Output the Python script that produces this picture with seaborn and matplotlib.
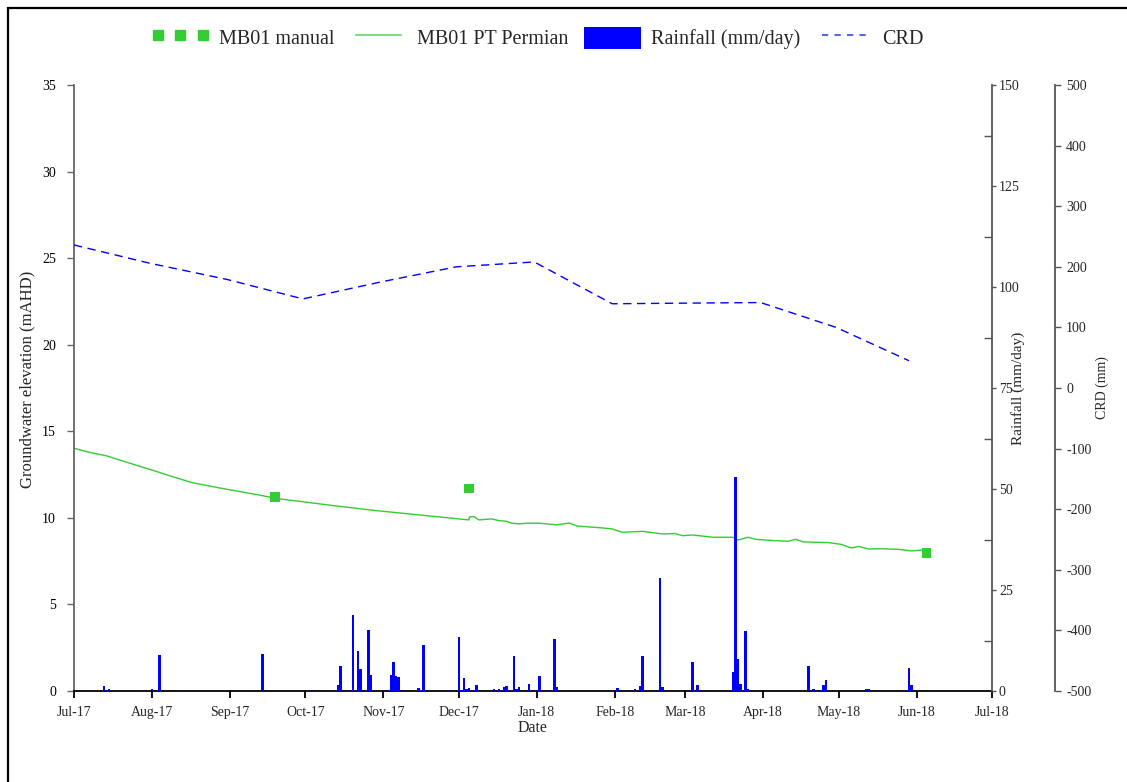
import matplotlib
matplotlib.use("Agg")
import matplotlib.pyplot as plt
import matplotlib.dates as mdates
from matplotlib.lines import Line2D
from matplotlib.patches import Patch, Rectangle
from matplotlib.ticker import MultipleLocator
import seaborn as sns
import pandas as pd
import numpy as np

# ---------------- data ----------------
pt_dates = ["2017-07-01", "2017-07-07", "2017-07-14", "2017-07-22", "2017-08-03",
            "2017-08-07", "2017-08-17", "2017-08-30", "2017-09-13", "2017-09-19",
            "2017-09-25", "2017-10-12", "2017-10-29", "2017-11-18", "2017-12-05T00:00",
            "2017-12-05T06:00", "2017-12-07", "2017-12-09", "2017-12-14", "2017-12-17",
            "2017-12-20", "2017-12-22", "2017-12-25", "2017-12-28", "2018-01-02",
            "2018-01-09", "2018-01-14", "2018-01-17", "2018-01-27", "2018-01-31",
            "2018-02-04", "2018-02-12", "2018-02-20", "2018-02-25", "2018-02-28",
            "2018-03-04", "2018-03-12", "2018-03-20", "2018-03-22", "2018-03-26",
            "2018-03-29", "2018-04-06", "2018-04-11", "2018-04-14", "2018-04-17",
            "2018-04-27", "2018-05-02", "2018-05-06", "2018-05-09", "2018-05-13",
            "2018-05-17", "2018-05-25", "2018-05-30", "2018-06-04"]
pt_values = [14.02, 13.79, 13.58, 13.21, 12.67,
             12.48, 12.03, 11.67, 11.31, 11.13,
             11.02, 10.71, 10.42, 10.13, 9.88,
             10.05, 10.07, 9.88, 9.94, 9.84,
             9.80, 9.69, 9.65, 9.69, 9.69,
             9.60, 9.70, 9.53, 9.42, 9.36,
             9.17, 9.22, 9.07, 9.09, 8.97,
             9.01, 8.88, 8.88, 8.72, 8.88,
             8.76, 8.68, 8.65, 8.76, 8.61,
             8.57, 8.47, 8.26, 8.35, 8.20,
             8.22, 8.18, 8.09, 8.15]

manual_dates = ["2017-09-19", "2017-12-05", "2018-06-05"]
manual_values = [11.2, 11.7, 7.97]

rain_dates = ["2017-07-13", "2017-07-15", "2017-08-01", "2017-08-04", "2017-09-14",
              "2017-10-03", "2017-10-08", "2017-10-14", "2017-10-15", "2017-10-20",
              "2017-10-22", "2017-10-23", "2017-10-26", "2017-10-27", "2017-11-03",
              "2017-11-04", "2017-11-05", "2017-11-06", "2017-11-07", "2017-11-08",
              "2017-11-15", "2017-11-16", "2017-11-17", "2017-11-27", "2017-12-01",
              "2017-12-02", "2017-12-03", "2017-12-04", "2017-12-05", "2017-12-07",
              "2017-12-08", "2017-12-15", "2017-12-17", "2017-12-19", "2017-12-20",
              "2017-12-21", "2017-12-23", "2017-12-24", "2017-12-25", "2017-12-29",
              "2018-01-02", "2018-01-08", "2018-01-09", "2018-02-02", "2018-02-09",
              "2018-02-11", "2018-02-12", "2018-02-19", "2018-02-20", "2018-03-04",
              "2018-03-06", "2018-03-20", "2018-03-21", "2018-03-22", "2018-03-23",
              "2018-03-25", "2018-03-26", "2018-04-19", "2018-04-21", "2018-04-24",
              "2018-04-25", "2018-04-26", "2018-05-12", "2018-05-13", "2018-05-29",
              "2018-05-30"]
rain_values = [1.3, 0.4, 0.6, 8.8, 9.2,
               0.2, 0.1, 1.5, 6.2, 18.8,
               9.8, 5.4, 15.0, 4.0, 0.2,
               3.9, 7.2, 3.7, 3.5, 0.3,
               0.7, 0.3, 11.4, 0.2, 13.4,
               0.3, 3.1, 0.5, 0.7, 0.3,
               1.5, 0.5, 0.6, 1.1, 1.3,
               0.3, 8.6, 0.6, 1.0, 1.7,
               3.7, 12.8, 1.0, 0.8, 0.4,
               1.2, 8.7, 27.9, 1.0, 7.2,
               1.4, 4.8, 53.0, 7.8, 1.7,
               14.9, 0.5, 6.2, 0.6, 0.3,
               1.5, 2.8, 0.6, 0.5, 5.8,
               1.5]

crd_dates = ["2017-07-01", "2017-07-31", "2017-08-31", "2017-09-30", "2017-10-31",
             "2017-11-30", "2017-12-31", "2018-01-31", "2018-02-28", "2018-03-31",
             "2018-04-30", "2018-05-29"]
crd_values = [236, 206, 179, 147, 175, 200, 208, 139, 140, 141, 100, 45]

# ---------------- style ----------------
sns.set_theme(style="white")
plt.rcParams["font.family"] = ["Liberation Serif", "DejaVu Serif"]
plt.rcParams["axes.unicode_minus"] = False

W, H = 1127, 782
fig = plt.figure(figsize=(W / 100, H / 100), dpi=100)
ax = fig.add_axes([74 / W, 91 / H, 918 / W, 606 / H])
ax2 = ax.twinx()
ax3 = ax.twinx()

green = "#33cc33"
blue = "#0000ff"

pt_df = pd.DataFrame({"date": pd.to_datetime(pt_dates, format="ISO8601"), "value": pt_values})
man_df = pd.DataFrame({"date": pd.to_datetime(manual_dates), "value": manual_values})
crd_df = pd.DataFrame({"date": pd.to_datetime(crd_dates), "value": crd_values})
rain_df = pd.DataFrame({"date": pd.to_datetime(rain_dates), "value": rain_values})

# groundwater
sns.lineplot(data=pt_df, x="date", y="value", ax=ax, color=green, lw=1.0,
             estimator=None, sort=False)
sns.scatterplot(data=man_df, x="date", y="value", ax=ax, color=green, marker="s",
                s=48, edgecolor="none", zorder=5)

# rainfall
ax2.bar(rain_df["date"], rain_df["value"], width=1.0, color=blue, edgecolor="none")

# CRD
sns.lineplot(data=crd_df, x="date", y="value", ax=ax3, color=blue, lw=1.0,
             linestyle=(0, (6, 4)), estimator=None, sort=False)

# ---------------- axes ----------------
x0, x1 = pd.Timestamp("2017-07-01"), pd.Timestamp("2018-07-01")
for a in (ax, ax2, ax3):
    a.set_xlim(x0, x1)
    a.set_facecolor("none")
    for s in a.spines.values():
        s.set_visible(False)

ax.set_ylim(0, 35)
ax.yaxis.set_major_locator(MultipleLocator(5))
ax.xaxis.set_major_locator(mdates.MonthLocator())
ax.xaxis.set_major_formatter(mdates.DateFormatter("%b-%y"))
ax.spines["left"].set_visible(True)
ax.spines["left"].set_color("#666666")
ax.spines["left"].set_linewidth(1.3)
ax.spines["bottom"].set_visible(True)
ax.spines["bottom"].set_color("black")
ax.spines["bottom"].set_linewidth(1.3)
ax.tick_params(axis="y", which="major", direction="out", length=5, width=1,
               color="#666666", labelsize=10, pad=8, left=True, labelcolor="black")
ax.tick_params(axis="x", which="major", direction="out", length=5, width=1.3,
               color="black", labelsize=10, pad=6, bottom=True)
ax.set_xlabel("Date", fontsize=11.5)
ax.xaxis.set_label_coords(0.5, -0.0475)
ax.set_ylabel("Groundwater elevation (mAHD)", fontsize=12)
ax.yaxis.set_label_coords(-0.0425, 0.515)
ax.grid(False)

ax2.set_ylim(0, 150)
ax2.yaxis.set_major_locator(MultipleLocator(25))
ax2.yaxis.set_minor_locator(MultipleLocator(12.5))
ax2.spines["right"].set_visible(True)
ax2.spines["right"].set_color("#555555")
ax2.spines["right"].set_linewidth(1.3)
ax2.tick_params(axis="y", which="major", direction="out", length=3, width=1,
                color="#555555", labelsize=10, pad=2, right=True)
ax2.tick_params(axis="y", which="minor", direction="in", length=6, width=1,
                color="#555555", right=True)
ax2.set_ylabel("Rainfall (mm/day)", fontsize=11)
ax2.yaxis.set_label_coords(1.0205, 0.5)
ax2.grid(False)

ax3.set_ylim(-500, 500)
ax3.yaxis.set_major_locator(MultipleLocator(100))
ax3.spines["right"].set_visible(True)
ax3.spines["right"].set_position(("outward", 63 * 72 / 100))
ax3.spines["right"].set_color("#555555")
ax3.spines["right"].set_linewidth(1.3)
ax3.tick_params(axis="y", which="major", direction="out", length=4, width=1,
                color="#555555", labelsize=10, pad=4, right=True)
ax3.set_ylabel("CRD (mm)", fontsize=10)
ax3.yaxis.set_label_coords(1.1125, 0.5)
ax3.grid(False)
ax3.tick_params(axis="x", bottom=False, labelbottom=False)
ax2.tick_params(axis="x", bottom=False, labelbottom=False)

# ---------------- legend ----------------
handles = [
    Line2D([], [], color=green, marker="s", linestyle="none", markersize=7.5),
    Line2D([], [], color="#7fdc7f", lw=1.5),
    Patch(facecolor=blue, edgecolor="none"),
    Line2D([], [], color="#5566ee", lw=1.5, linestyle=(0, (3, 3))),
]
labels = ["MB01 manual", "MB01 PT Permian", "Rainfall (mm/day)", "CRD"]
fig.legend(handles, labels, loc="center", bbox_to_anchor=(538 / W, 1 - 38 / H),
           ncol=4, frameon=False, fontsize=14.5, numpoints=3, handlelength=2.8,
           handleheight=1.3, handletextpad=0.5, columnspacing=0.8)

# frame
fig.add_artist(Rectangle((8 / W, -0.05), 1.1, 1.05 - 8 / H, transform=fig.transFigure,
                         fill=False, lw=1.6, ec="black"))

fig.savefig("out.png", dpi=100)
